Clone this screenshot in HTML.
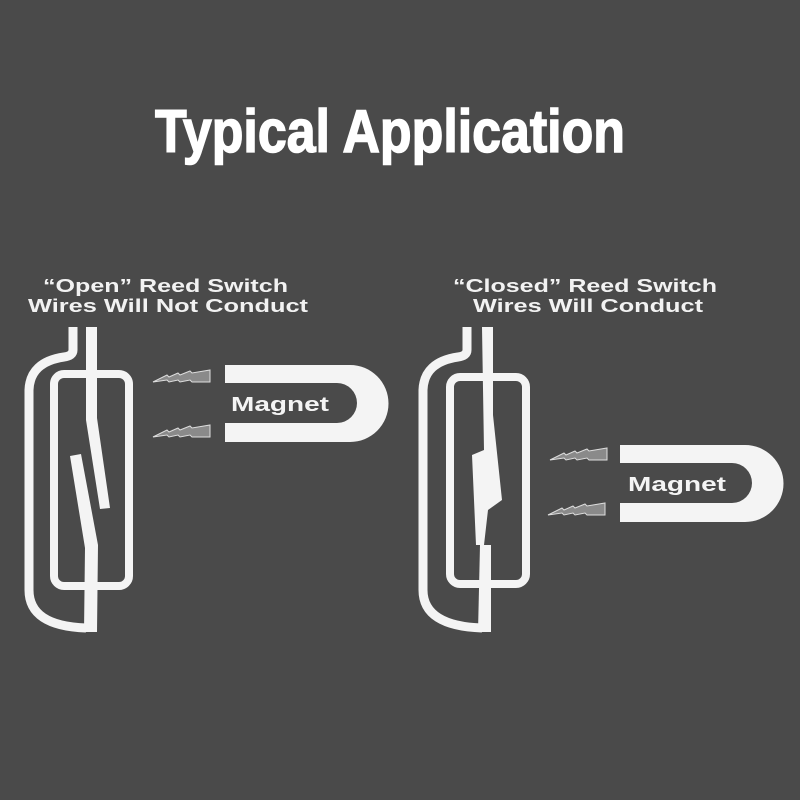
<!DOCTYPE html>
<html><head><style>html,body{margin:0;padding:0;background:#4a4a4a}svg{display:block}</style></head>
<body>
<svg width="800" height="800" viewBox="0 0 800 800" xmlns="http://www.w3.org/2000/svg">
<rect width="800" height="800" fill="#4a4a4a"/>
<text x="155" y="152" font-family="Liberation Sans, sans-serif" font-weight="bold" font-size="60" fill="#fff" stroke="#fff" stroke-width="1.5" textLength="470" lengthAdjust="spacingAndGlyphs">Typical Application</text>
<g font-family="Liberation Sans, sans-serif" font-weight="bold" font-size="18" fill="#f2f2f2">
<text x="43" y="292" textLength="245" lengthAdjust="spacingAndGlyphs">“Open” Reed Switch</text>
<text x="28" y="312" textLength="280" lengthAdjust="spacingAndGlyphs">Wires Will Not Conduct</text>
<text x="453" y="292" textLength="264" lengthAdjust="spacingAndGlyphs">“Closed” Reed Switch</text>
<text x="473" y="312" textLength="230" lengthAdjust="spacingAndGlyphs">Wires Will Conduct</text>
</g>
<defs>
<g id="arrow">
<polygon points="0,12 14,5 16,7 25,3 27,5 37,1 39,3 57,0 57,12 39,12 37,10 27,12 25,10 16,12 14,10" fill="#8a8a8a" stroke="#ddd" stroke-width="1"/>
</g>
<g id="mag">
<path d="M0,0 H125 A38.5,38.5 0 0 1 125,77 H0 V58 H112 A20,20 0 0 0 112,18 H0 Z" fill="#f4f4f4"/>
</g>
</defs>
<!-- left switch -->
<g fill="none" stroke="#f4f4f4">
<path d="M73,327 V350 Q73,356 64,357 Q30,362 29,390 V590 Q29,626 86,628" stroke-width="9"/>
<rect x="54" y="374" width="75" height="212" rx="10" stroke-width="8"/>
</g>
<g fill="#f4f4f4">
<polygon points="86,327 97,327 97,418 110,508 100,509 86,420"/>
<polygon points="70,456 81,454 98,545 97,632 84,632 85,548"/>
<use href="#arrow" x="153" y="370"/>
<use href="#arrow" x="153" y="425"/>
<use href="#mag" x="225" y="365"/>
</g>
<text x="231" y="411" font-family="Liberation Sans, sans-serif" font-weight="bold" font-size="20" fill="#f4f4f4" textLength="98" lengthAdjust="spacingAndGlyphs">Magnet</text>
<!-- right switch -->
<g fill="none" stroke="#f4f4f4">
<path d="M467,327 V350 Q467,356 458,357 Q424,362 423,390 V590 Q423,626 482,628" stroke-width="9"/>
<rect x="450" y="377" width="76" height="207" rx="10" stroke-width="8"/>
</g>
<g fill="#f4f4f4">
<polygon points="482,327 493,327 493,415 502,500 488,510 484,545 476,545 472,455 484,450"/>
<polygon points="480,545 491,545 491,632 478,632"/>
<use href="#arrow" x="550" y="448"/>
<use href="#arrow" x="548" y="503"/>
<use href="#mag" x="620" y="445"/>
</g>
<text x="628" y="491" font-family="Liberation Sans, sans-serif" font-weight="bold" font-size="20" fill="#f4f4f4" textLength="98" lengthAdjust="spacingAndGlyphs">Magnet</text>
</svg>
</body></html>
